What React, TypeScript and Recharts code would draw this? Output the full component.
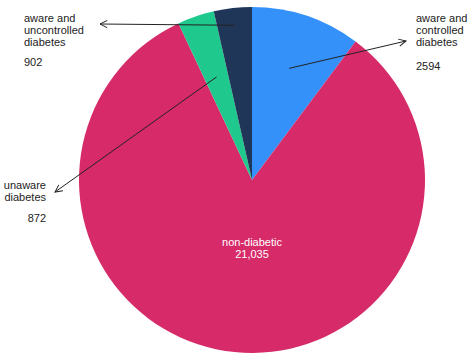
import { PieChart, Pie, Cell } from "recharts";

const categories = [
  "aware and controlled diabetes",
  "non-diabetic",
  "unaware diabetes",
  "aware and uncontrolled diabetes",
];
const counts = [2594, 21035, 872, 902];
const colors = ["#3391F9", "#D72A69", "#1FC98E", "#1F3659"];

const data = categories.map((name, i) => ({ name, value: counts[i] }));

// callout layout per slice: where the arrow starts (fraction of radius along the mid angle),
// where the arrow head sits and where the text block goes
const callouts: Record<string, any> = {
  "aware and controlled diabetes": {
    r: 0.68, head: [406, 41], tx: 416, ty: 22, anchor: "start",
    lines: ["aware and", "controlled", "diabetes"], valueY: 70,
  },
  "aware and uncontrolled diabetes": {
    r: 0.9, head: [100, 24], tx: 24, ty: 22, anchor: "start",
    lines: ["aware and", "uncontrolled", "diabetes"], valueY: 66,
  },
  "unaware diabetes": {
    r: 0.63, head: [55, 192], tx: 46, ty: 189, anchor: "end",
    lines: ["unaware", "diabetes"], valueY: 222,
  },
};

const RAD = Math.PI / 180;
const font = "'Liberation Sans', Arial, Helvetica, sans-serif";

function renderLabel(props: any) {
  const { cx, cy, midAngle, outerRadius, name, value } = props;
  if (name === "non-diabetic") {
    return (
      <text x={cx} y={cy + 0.38 * outerRadius} textAnchor="middle" fill="#fff" fontSize={11} fontFamily={font}>
        <tspan x={cx} dy={0}>non-diabetic</tspan>
        <tspan x={cx} dy={12}>{value.toLocaleString("en-US")}</tspan>
      </text>
    );
  }
  const c = callouts[name];
  const sx = cx + c.r * outerRadius * Math.cos(-midAngle * RAD);
  const sy = cy + c.r * outerRadius * Math.sin(-midAngle * RAD);
  return (
    <g>
      <line x1={sx} y1={sy} x2={c.head[0]} y2={c.head[1]} stroke="#222" strokeWidth={1} markerEnd="url(#openArrow)" />
      <text x={c.tx} y={c.ty} textAnchor={c.anchor} fill="#222" fontSize={11} fontFamily={font}>
        {c.lines.map((l: string, i: number) => (
          <tspan key={i} x={c.tx} dy={i === 0 ? 0 : 12}>{l}</tspan>
        ))}
      </text>
      <text x={c.tx} y={c.valueY} textAnchor={c.anchor} fill="#222" fontSize={11} fontFamily={font}>
        {value}
      </text>
    </g>
  );
}

export default function App() {
  return (
    <div style={{ position: "absolute", left: 0, top: 0, background: "#fff" }}>
      <PieChart width={469} height={360} margin={{ top: 0, right: 0, bottom: 0, left: 0 }}>
        <defs>
          <marker id="openArrow" viewBox="0 0 10 10" refX="9" refY="5" markerWidth="9" markerHeight="9" orient="auto" markerUnits="userSpaceOnUse">
            <path d="M1,1 L9,5 L1,9" fill="none" stroke="#222" strokeWidth={1.1} />
          </marker>
        </defs>
        <Pie
          data={data}
          dataKey="value"
          nameKey="name"
          cx={252}
          cy={180}
          outerRadius={173}
          startAngle={90}
          endAngle={-270}
          stroke="none"
          labelLine={false}
          label={renderLabel}
          isAnimationActive={false}
        >
          {data.map((d, i) => (
            <Cell key={d.name} fill={colors[i]} />
          ))}
        </Pie>
      </PieChart>
    </div>
  );
}
